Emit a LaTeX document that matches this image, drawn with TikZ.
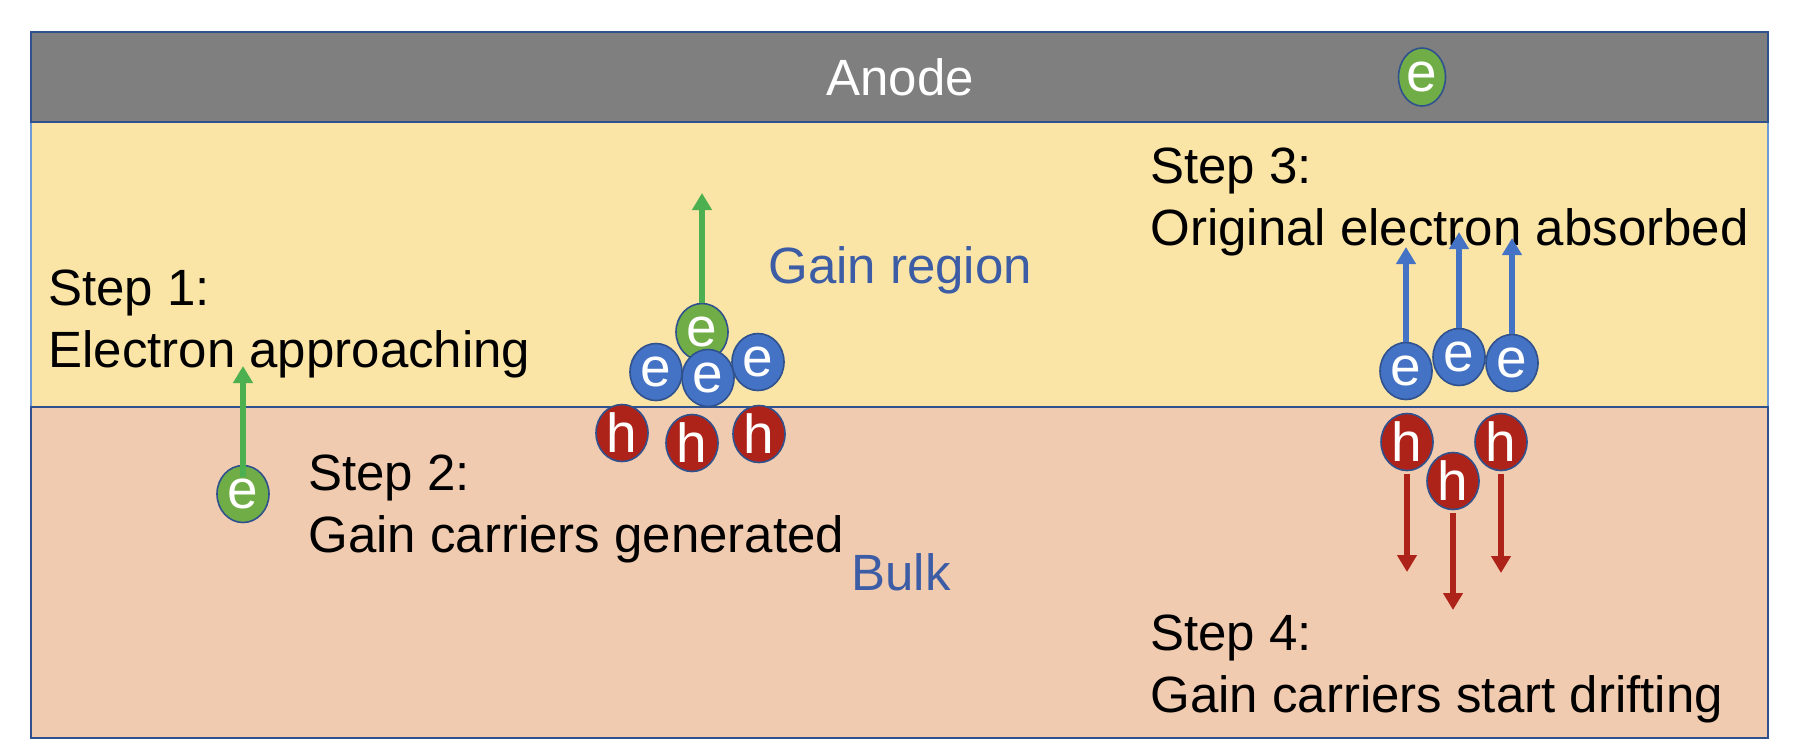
\documentclass[tikz,border=0pt]{standalone}
\usepackage{fontspec}
\setmainfont{Liberation Sans}
\usetikzlibrary{shapes.geometric,arrows.meta}
\definecolor{anodegray}{HTML}{7F7F7F}
\definecolor{gainyellow}{HTML}{FAE5A6}
\definecolor{bulkpeach}{HTML}{F1CBB0}
\definecolor{darkblue}{HTML}{2F528F}
\definecolor{lightblue}{HTML}{6C9BD5}
\definecolor{egreen}{HTML}{70AD47}
\definecolor{eblue}{HTML}{4472C4}
\definecolor{hred}{HTML}{AE2319}
\definecolor{arrgreen}{HTML}{4CAF50}
\definecolor{labelblue}{HTML}{3C5DA5}
\begin{document}
\begin{tikzpicture}[x=0.5pt,y=-0.5pt,
  font=\fontsize{25.5}{30}\selectfont,
  particle/.style={ellipse, draw=darkblue, line width=0.8pt, minimum width=26pt, minimum height=28.5pt, inner sep=0pt, text=white, font=\fontsize{27.5}{30}\selectfont},
  electron/.style={particle, fill=eblue},
  primary/.style={particle, fill=egreen},
  hole/.style={particle, fill=hred},
  steptext/.style={anchor=base west, inner sep=0pt, text=black},
  regiontext/.style={anchor=base west, inner sep=0pt, text=labelblue},
  flow/.style={line width=2.7pt, -{Triangle[width=9.5pt,length=8.5pt]}},
]
\useasboundingbox (0,0) rectangle (1798,752);
\fill[white] (0,0) rectangle (1798,752);
% layers
\draw[fill=gainyellow, draw=lightblue, line width=1pt] (31,122) rectangle (1768,407);
\draw[fill=bulkpeach, draw=darkblue, line width=1.2pt] (31,407) rectangle (1768,738);
\draw[fill=anodegray, draw=darkblue, line width=1.2pt] (31,32) rectangle (1768,122);
% texts
\node[anchor=base, inner sep=0pt, text=white] (anode) at (900,95) {Anode};
\node[steptext] (s1a) at (48,305) {Step 1:};
\node[steptext] (s1b) at (48,367) {Electron approaching};
\node[regiontext] (gain) at (768,283) {Gain region};
\node[steptext] (s2a) at (308,490) {Step 2:};
\node[steptext] (s2b) at (308,552) {Gain carriers generated};
\node[regiontext] (bulk) at (851,590) {Bulk};
\node[steptext] (s3a) at (1150,183) {Step 3:};
\node[steptext] (s3b) at (1150,245) {Original electron absorbed};
\node[steptext] (s4a) at (1150,650) {Step 4:};
\node[steptext] (s4b) at (1150,712) {Gain carriers start drifting};
% step 1
\node[primary] (eone) at (243,494) {e};
\coordinate (tone) at (243,366);
\draw[flow, draw=arrgreen, fill=arrgreen] ([yshift=-6pt]eone.north) -- (tone);
% step 2 cluster
\node[primary] (eprim) at (702,332) {e};
\node[electron] (ca) at (656,372) {e};
\node[electron] (cc) at (758,362) {e};
\node[electron] (cb) at (708,378) {e};
\node[hole] (ha) at (622,433) {h};
\node[hole] (hb) at (692,443) {h};
\node[hole] (hc) at (759,434) {h};
\coordinate (tprim) at (702,193);
\draw[flow, draw=arrgreen, fill=arrgreen] (eprim.north) -- (tprim);
% anode electron
\node[primary, minimum width=23.5pt, minimum height=29pt] (eanode) at (1422,77) {e};
% step 3 / 4
\node[electron] (ga) at (1406,371) {e};
\node[electron] (gb) at (1459,357) {e};
\node[electron] (gc) at (1512,363) {e};
\node[hole] (qa) at (1407,442) {h};
\node[hole] (qc) at (1501,442) {h};
\node[hole] (qb) at (1453,481) {h};
\coordinate (ua) at (1406,247);
\coordinate (ub) at (1459,232);
\coordinate (uc) at (1512,238);
\draw[flow, draw=eblue, fill=eblue] (ga.north) -- (ua);
\draw[flow, draw=eblue, fill=eblue] (gb.north) -- (ub);
\draw[flow, draw=eblue, fill=eblue] (gc.north) -- (uc);
\coordinate (da) at (1407,572);
\coordinate (db) at (1453,610);
\coordinate (dc) at (1501,573);
\draw[flow, draw=hred, fill=hred] ([yshift=-1.5pt]qa.south) -- (da);
\draw[flow, draw=hred, fill=hred] ([yshift=-1.5pt]qb.south) -- (db);
\draw[flow, draw=hred, fill=hred] ([yshift=-1.5pt]qc.south) -- (dc);
\end{tikzpicture}
\end{document}
